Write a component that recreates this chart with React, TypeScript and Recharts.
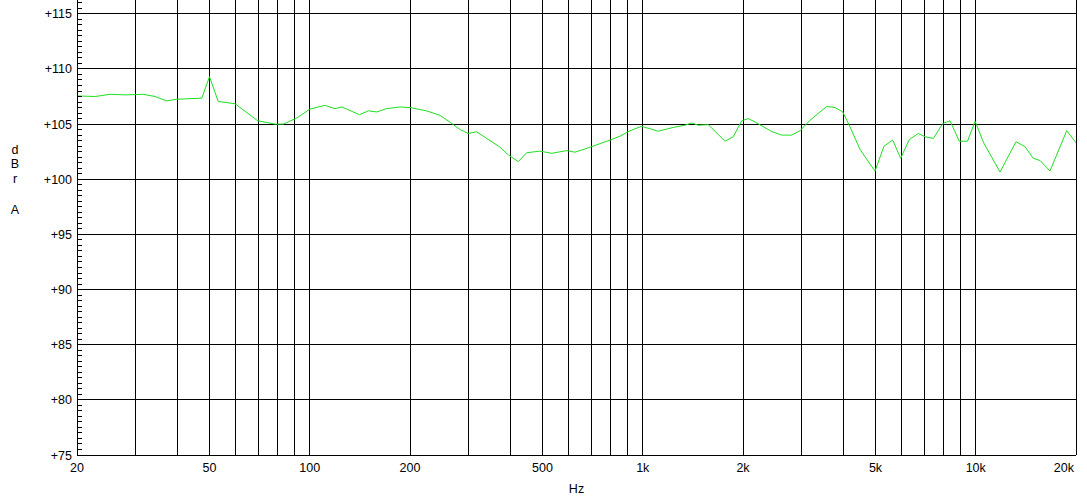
import React from 'react';
import { LineChart, Line, XAxis, YAxis, CartesianGrid, ReferenceLine } from 'recharts';

const freqs = [
  20, 22.7, 25.1, 27.9, 31.6, 34.3, 37.2, 39.8, 47.4, 50, 53.1, 59.6, 69.8, 78.6, 83.3, 91.4,
  100, 111, 119, 125, 141, 150, 159, 170, 187, 200, 224, 246, 267, 283, 299, 317, 348, 373,
  395, 423, 448, 491, 533, 591, 626, 694, 797, 854, 916, 993, 1113, 1235, 1339, 1403, 1468,
  1573, 1766, 1870, 1982, 2075, 2200, 2450, 2614, 2800, 2966, 3178, 3568, 3780, 3986, 4192,
  4492, 4982, 5302, 5630, 5950, 6316, 6720, 7040, 7458, 7958, 8368, 8924, 9446, 9952, 10564,
  11830, 13208, 14054, 14884, 15592, 16706, 18756, 20000,
];

const levels = [
  107.55, 107.5, 107.7, 107.65, 107.7, 107.5, 107.1, 107.25, 107.35, 109.3, 107.05, 106.85,
  105.3, 105.0, 105.0, 105.55, 106.35, 106.7, 106.4, 106.55, 105.85, 106.2, 106.1, 106.4,
  106.55, 106.5, 106.2, 105.8, 105.05, 104.5, 104.15, 104.3, 103.5, 102.9, 102.2, 101.6,
  102.4, 102.55, 102.35, 102.6, 102.45, 102.9, 103.55, 103.9, 104.4, 104.8, 104.35, 104.7,
  104.9, 105.1, 104.9, 104.95, 103.45, 103.85, 105.3, 105.5, 105.1, 104.3, 104.0, 104.0,
  104.4, 105.35, 106.6, 106.5, 106.1, 104.75, 102.7, 100.73, 103.0, 103.55, 101.9, 103.6,
  104.15, 103.85, 103.7, 105.05, 105.3, 103.45, 103.45, 105.25, 103.3, 100.65, 103.4, 102.95,
  101.9, 101.7, 100.75, 104.4, 103.3,
];

const xGridTicks = [
  20, 30, 40, 50, 60, 70, 80, 90, 100, 200, 300, 400, 500, 600, 700, 800, 900, 1000, 2000,
  3000, 4000, 5000, 6000, 7000, 8000, 9000, 10000, 20000,
];
const xLabelTicks = [20, 50, 100, 200, 500, 1000, 2000, 5000, 10000, 20000];
const xLabelText = ['20', '50', '100', '200', '500', '1k', '2k', '5k', '10k', '20k'];

const yMajorTicks = [75, 80, 85, 90, 95, 100, 105, 110, 115];
const yMinorTicks: number[] = [];
for (let v = 75; v <= 116; v += 0.5) yMinorTicks.push(v);

const yLabelLetters = ['d', 'B', 'r', 'A'];
const yLabelBaselines = [154, 168, 183, 214];

const data = freqs.map((f, i) => ({ f, v: levels[i] }));

const FONT = '"Liberation Sans", Arial, sans-serif';

const YTick = (props: any) => {
  const { x, y, payload } = props;
  const v = payload.value;
  const major = Math.abs(v % 5) < 1e-6;
  return (
    <g>
      <line x1={x} x2={x + 5} y1={y} y2={y} stroke="#000" shapeRendering="crispEdges" />
      {major && (
        <text x={x - 5} y={y} dy="0.36em" textAnchor="end" fill="#000" fontSize={12.5} fontFamily={FONT}>
          {'+' + v}
        </text>
      )}
    </g>
  );
};

const XTick = (props: any) => {
  const { x, y, payload } = props;
  const idx = xLabelTicks.indexOf(payload.value);
  if (idx < 0) return <g />;
  const last = idx === xLabelTicks.length - 1;
  return (
    <text
      x={last ? x - 2 : x}
      y={y}
      dy="0.72em"
      textAnchor={last ? 'end' : 'middle'}
      fill="#000"
      fontSize={12.5}
      fontFamily={FONT}
    >
      {xLabelText[idx]}
    </text>
  );
};

const YLabel = (props: any) => {
  const vb = props.viewBox || { x: 0 };
  return (
    <g>
      {yLabelLetters.map((l, i) => (
        <text key={l} x={vb.x + 15} y={yLabelBaselines[i]} textAnchor="middle" fill="#000" fontSize={12.5} fontFamily={FONT}>
          {l}
        </text>
      ))}
    </g>
  );
};

export default function App() {
  return (
    <div style={{ position: 'absolute', left: 0, top: 0, width: 1087, height: 499, background: '#fff', fontFamily: FONT }}>
      <style>{`.recharts-cartesian-grid line, .recharts-reference-line line, .recharts-cartesian-axis-line { shape-rendering: crispEdges; }`}</style>
      <LineChart width={1087} height={499} data={data} margin={{ top: 0, right: 11, left: 0, bottom: 0 }}>
        <CartesianGrid horizontal={false} vertical={true} stroke="#000" strokeOpacity={1} />
        {yMajorTicks.map((t) => (
          <ReferenceLine key={t} y={t} stroke="#000" strokeWidth={1} ifOverflow="hidden" />
        ))}
        <XAxis
          dataKey="f"
          type="number"
          scale="log"
          domain={[20, 20000]}
          allowDataOverflow
          ticks={xGridTicks}
          interval={0}
          tickLine={false}
          tickSize={0}
          tickMargin={8}
          tick={<XTick />}
          axisLine={{ stroke: '#000' }}
          height={44}
          label={{ value: 'Hz', position: 'insideBottom', offset: 6, fill: '#000', fontSize: 12.5, fontFamily: FONT }}
        />
        <YAxis
          type="number"
          domain={[75, 116.25]}
          allowDataOverflow
          ticks={yMinorTicks}
          interval={0}
          tickLine={false}
          tickSize={0}
          tickMargin={0}
          tick={<YTick />}
          axisLine={{ stroke: '#000' }}
          width={77}
          label={<YLabel />}
        />
        <Line
          type="linear"
          dataKey="v"
          stroke="#1ee01e"
          strokeWidth={1}
          dot={false}
          isAnimationActive={false}
        />
      </LineChart>
    </div>
  );
}
